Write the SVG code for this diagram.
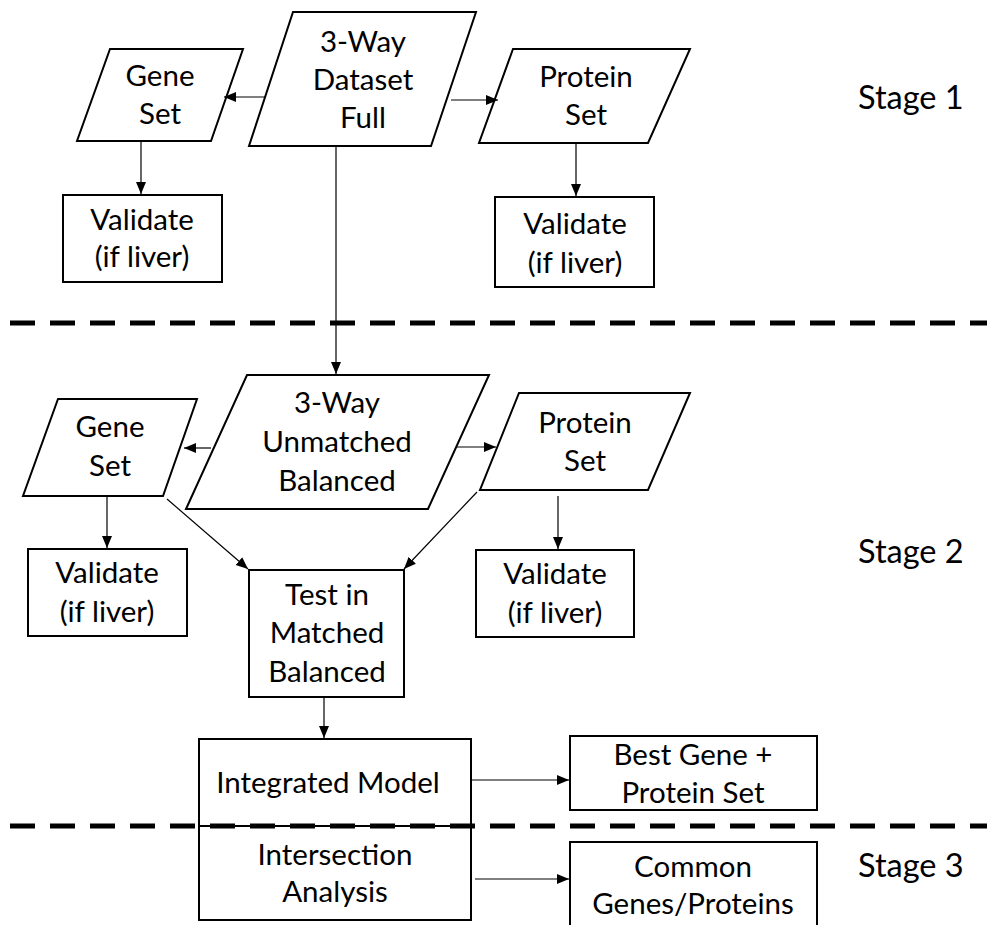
<svg xmlns="http://www.w3.org/2000/svg" width="987" height="925" viewBox="0 0 987 925">
  <style>
    .shape { fill: #ffffff; stroke: #000000; stroke-width: 2; }
    .lbl { font-family: Lato, "Open Sans", "Liberation Sans", sans-serif; font-size: 29.5px; fill: #000000; text-anchor: middle; }
    .stage { font-family: Lato, "Open Sans", "Liberation Sans", sans-serif; font-size: 32.5px; fill: #000000; }
    .conn { fill: none; stroke: #000000; stroke-width: 1.2; marker-end: url(#arrow); }
    .divider { stroke: #000000; stroke-width: 5; stroke-dasharray: 25 15; }
  </style>
  <defs>
    <marker id="arrow" markerUnits="userSpaceOnUse" markerWidth="12" markerHeight="12" viewBox="0 0 12 12" refX="12" refY="6" orient="auto">
      <path d="M0,1 L12,6 L0,11 Z" fill="#000000"/>
    </marker>
  </defs>
  <rect width="987" height="925" fill="#ffffff"/>

  <!-- divider between stages 1 and 2 -->
  <g id="dividers">
    <line class="divider" x1="10" y1="323" x2="987" y2="323"/>
  </g>

  <!-- Stage 1 -->
  <g id="dataset-full">
    <polygon class="shape" points="293,12 476,12 431,146 249,146"/>
    <text class="lbl" x="363" y="52">3-Way</text>
    <text class="lbl" x="363" y="90">Dataset</text>
    <text class="lbl" x="363" y="128">Full</text>
  </g>
  <g id="gene-set-1">
    <polygon class="shape" points="110,49 243,49 211,141 77,141"/>
    <text class="lbl" x="160" y="86">Gene</text>
    <text class="lbl" x="160" y="124">Set</text>
  </g>
  <g id="protein-set-1">
    <polygon class="shape" points="513,49 690,49 648,143 479,143"/>
    <text class="lbl" x="586" y="87">Protein</text>
    <text class="lbl" x="586" y="125">Set</text>
  </g>
  <g id="validate-gene-1">
    <rect class="shape" x="63" y="195" width="159" height="87"/>
    <text class="lbl" x="142" y="230">Validate</text>
    <text class="lbl" x="142" y="267">(if liver)</text>
  </g>
  <g id="validate-protein-1">
    <rect class="shape" x="495" y="197" width="159" height="90"/>
    <text class="lbl" x="575" y="234">Validate</text>
    <text class="lbl" x="575" y="273">(if liver)</text>
  </g>
  <text class="stage" x="858" y="109">Stage 1</text>

  <!-- Stage 2 -->
  <g id="unmatched-balanced">
    <polygon class="shape" points="247,375 489,375 428,509 186,509"/>
    <text class="lbl" x="337" y="413">3-Way</text>
    <text class="lbl" x="337" y="452">Unmatched</text>
    <text class="lbl" x="337" y="491">Balanced</text>
  </g>
  <g id="gene-set-2">
    <polygon class="shape" points="58,399 197,399 163,496 23,496"/>
    <text class="lbl" x="110" y="437">Gene</text>
    <text class="lbl" x="110" y="476">Set</text>
  </g>
  <g id="protein-set-2">
    <polygon class="shape" points="519,393 690,393 648,490 480,490"/>
    <text class="lbl" x="585" y="433">Protein</text>
    <text class="lbl" x="585" y="471">Set</text>
  </g>
  <g id="validate-gene-2">
    <rect class="shape" x="28" y="549" width="159" height="87"/>
    <text class="lbl" x="107" y="583">Validate</text>
    <text class="lbl" x="107" y="622">(if liver)</text>
  </g>
  <g id="validate-protein-2">
    <rect class="shape" x="476" y="550" width="158" height="87"/>
    <text class="lbl" x="555" y="584">Validate</text>
    <text class="lbl" x="555" y="623">(if liver)</text>
  </g>
  <g id="test-matched">
    <rect class="shape" x="249" y="570" width="155" height="127"/>
    <text class="lbl" x="327" y="605">Test in</text>
    <text class="lbl" x="327" y="643">Matched</text>
    <text class="lbl" x="327" y="682">Balanced</text>
  </g>
  <g id="integrated-model">
    <rect class="shape" x="199" y="739" width="272" height="87"/>
    <text class="lbl" x="328" y="793">Integrated Model</text>
  </g>
  <g id="best-set">
    <rect class="shape" x="570" y="736" width="247" height="74"/>
    <text class="lbl" x="693" y="765">Best Gene +</text>
    <text class="lbl" x="693" y="803">Protein Set</text>
  </g>
  <text class="stage" x="858" y="563">Stage 2</text>

  <!-- Stage 3 -->
  <g id="intersection">
    <rect class="shape" x="199" y="826" width="272" height="94"/>
    <text class="lbl" x="335" y="865">Intersection</text>
    <text class="lbl" x="335" y="902">Analysis</text>
  </g>
  <g id="common">
    <rect class="shape" x="570" y="842" width="247" height="100"/>
    <text class="lbl" x="693" y="877">Common</text>
    <text class="lbl" x="693" y="914">Genes/Proteins</text>
  </g>
  <text class="stage" x="858" y="877">Stage 3</text>

  <!-- divider between stages 2 and 3, drawn over the shared box edge -->
  <line class="divider" x1="10" y1="826" x2="987" y2="826"/>

  <!-- connectors -->
  <g id="connectors">
    <line class="conn" x1="265" y1="97" x2="224" y2="97"/>
    <line class="conn" x1="451" y1="100" x2="498" y2="100"/>
    <line class="conn" x1="141" y1="141" x2="141" y2="194"/>
    <line class="conn" x1="576" y1="143" x2="576" y2="196"/>
    <line class="conn" x1="336" y1="146" x2="336" y2="374"/>
    <line class="conn" x1="211" y1="448" x2="184" y2="448"/>
    <line class="conn" x1="457" y1="447" x2="496" y2="447"/>
    <line class="conn" x1="107" y1="497" x2="107" y2="548"/>
    <line class="conn" x1="558" y1="496" x2="558" y2="549"/>
    <line class="conn" x1="167" y1="499" x2="248" y2="569"/>
    <line class="conn" x1="477" y1="492" x2="404" y2="569"/>
    <line class="conn" x1="324" y1="697" x2="324" y2="738"/>
    <line class="conn" x1="471" y1="780" x2="569" y2="780"/>
    <line class="conn" x1="475" y1="879" x2="569" y2="879"/>
  </g>
</svg>
